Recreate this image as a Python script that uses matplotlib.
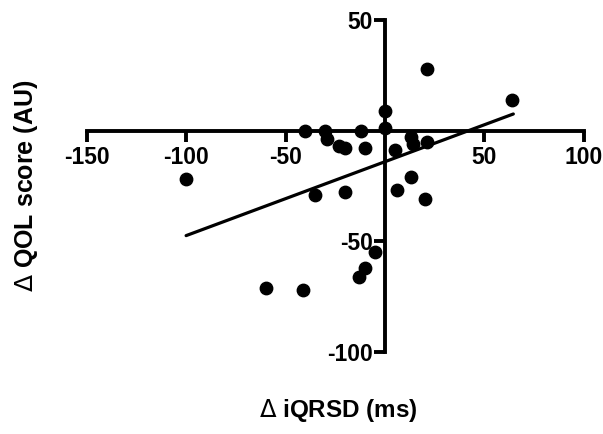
import numpy as np
import matplotlib
matplotlib.use('Agg')
import matplotlib.pyplot as plt

plt.rcParams['font.family'] = ['Liberation Sans', 'DejaVu Sans']
plt.rcParams['axes.unicode_minus'] = False

# datos
delta_iqrsd = [21, 64, 0, 0, -40, -30, -12, -29, -23, -20, -10, 5, 13, 14, 21,
               13, -100, -35, -20, 6, 20, -5, -10, -13, -60, -41]
delta_qol = [28, 14, 9, 1, 0, 0, 0, -4, -7, -8, -8, -9, -3, -6, -5,
             -21, -22, -29, -28, -27, -31, -55, -62, -66, -71, -72]

# recta de regresion (extremos)
fit_x = [-100, 64.6]
fit_y = [-47.5, 7.5]

xticks = [-150, -100, -50, 50, 100]
yticks = [-100, -50, 50]

fig = plt.figure(figsize=(6.03, 4.34), dpi=100)
ax = fig.add_axes([0.1438, 0.1896, 0.8242, 0.7643])

ax.scatter(delta_iqrsd, delta_qol, s=80, color='black', zorder=3, clip_on=False)
ax.plot(fit_x, fit_y, color='black', linewidth=2.3, solid_capstyle='round', zorder=3)

ax.set_xlim(-150, 100)
ax.set_ylim(-100, 50)

# ejes cruzados en el origen
ax.spines['left'].set_position(('data', 0))
ax.spines['bottom'].set_position(('data', 0))
ax.spines['top'].set_visible(False)
ax.spines['right'].set_visible(False)
for s in ['left', 'bottom']:
    ax.spines[s].set_linewidth(2.8)

ax.set_xticks(xticks)
ax.set_yticks(yticks)
ax.tick_params(axis='both', direction='out', length=8, width=2.8, labelsize=16.5)
ax.tick_params(axis='x', pad=3)
ax.tick_params(axis='y', pad=0.5)
for lbl in ax.get_xticklabels() + ax.get_yticklabels():
    lbl.set_fontweight('bold')

fig.text(338 / 603, 1 - 411 / 434, r'$\Delta$ iQRSD (ms)', fontsize=17.5,
         fontweight='bold', ha='center', va='center')
fig.text(26.5 / 603, 1 - 186 / 434, r'$\Delta$ QOL score (AU)', fontsize=18,
         fontweight='bold', ha='center', va='center', rotation=90)

plt.savefig('out.png', dpi=100)
